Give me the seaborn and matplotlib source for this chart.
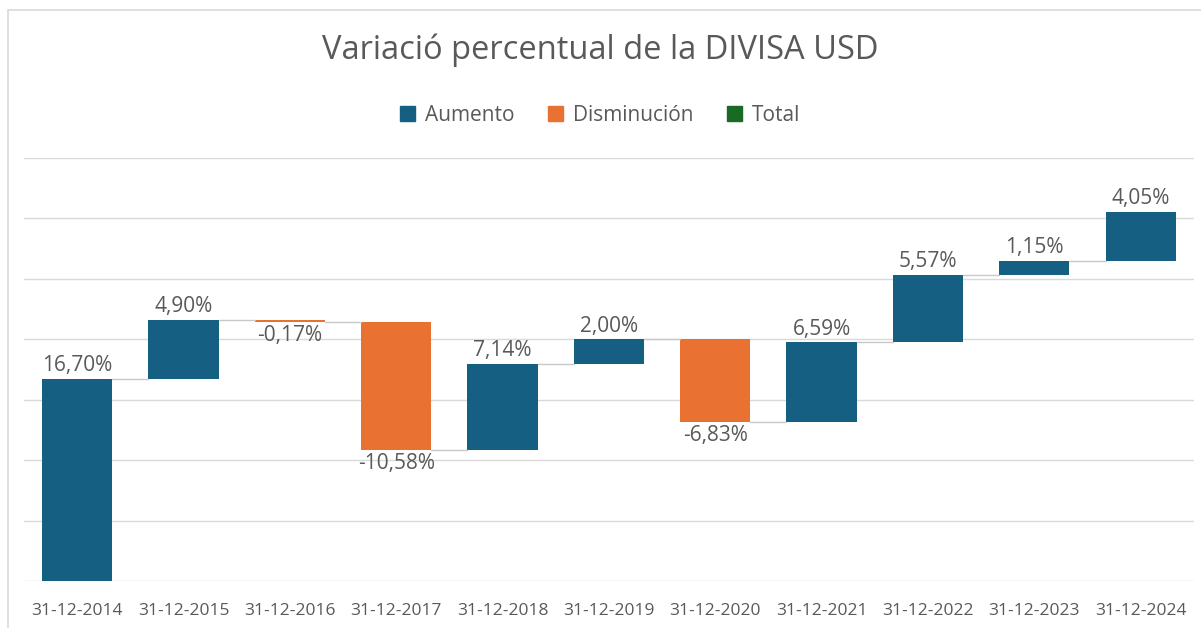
import numpy as np
import pandas as pd
import matplotlib
matplotlib.use("Agg")
import matplotlib.pyplot as plt
import matplotlib.patches as mpatches
import seaborn as sns

# data
fechas = ["31-12-2014", "31-12-2015", "31-12-2016", "31-12-2017", "31-12-2018", "31-12-2019",
          "31-12-2020", "31-12-2021", "31-12-2022", "31-12-2023", "31-12-2024"]
variacion = [16.70, 4.90, -0.17, -10.58, 7.14, 2.00, -6.83, 6.59, 5.57, 1.15, 4.05]
etiquetas = ["16,70%", "4,90%", "-0,17%", "-10,58%", "7,14%", "2,00%",
             "-6,83%", "6,59%", "5,57%", "1,15%", "4,05%"]
leyenda = ["Aumento", "Disminución", "Total"]
colores = {"Aumento": "#156082", "Disminución": "#E97132", "Total": "#196B24"}

sns.set_style("white")
plt.rcParams["font.family"] = ["Open Sans", "DejaVu Sans"]

# waterfall: each bar starts where the previous one ended
acumulado = np.cumsum(variacion)
base = np.concatenate([[0], acumulado[:-1]])
df = pd.DataFrame({"fecha": fechas, "var": variacion, "base": base})
df["tipo"] = np.where(df["var"] >= 0, "Aumento", "Disminución")

fig = plt.figure(figsize=(12.01, 6.28), dpi=100)
ax = fig.add_axes([0.020, 0.0748, 0.974, 0.6736])

sns.barplot(data=df, x="fecha", y="var", bottom=df["base"].values, width=0.66,
            errorbar=None, ax=ax, linewidth=0, color=colores["Aumento"], saturation=1)
bars = ax.containers[0]
for patch, t in zip(bars, df["tipo"]):
    patch.set_facecolor(colores[t])

# connector lines
for i in range(len(acumulado) - 1):
    ax.plot([i + 0.33, i + 1 - 0.33], [acumulado[i], acumulado[i]],
            color="#C8C8C8", lw=1, zorder=1)

ax.bar_label(bars, labels=etiquetas, padding=2, fontsize=15, color="#595959")

ax.set_ylim(0, 35)
ax.set_xlim(-0.5, len(fechas) - 0.5)
ax.set_yticks(np.arange(0, 36, 5))
ax.set_yticklabels([])
ax.grid(axis="y", color="#D9D9D9", lw=1)
ax.set_axisbelow(True)
ax.tick_params(axis="both", length=0)
ax.tick_params(axis="x", labelsize=12.5, labelcolor="#595959", pad=16)
ax.set_xlabel("")
ax.set_ylabel("")
for s in ax.spines.values():
    s.set_visible(False)

fig.suptitle("Variació percentual de la DIVISA USD", y=0.947, fontsize=23.5, color="#595959")

handles = [mpatches.Patch(color=colores[k], label=k) for k in leyenda]
fig.legend(handles=handles, loc="center", bbox_to_anchor=(0.5, 0.816), ncol=3, frameon=False,
           fontsize=15, labelcolor="#595959", handlelength=0.7, handleheight=0.7,
           handletextpad=0.5, columnspacing=1.6)

# chart-area border
fig.patches.append(mpatches.Rectangle((8 / 1201, -0.01), 1.0, (618 / 628) + 0.01,
                                      transform=fig.transFigure, fill=False,
                                      edgecolor="#D9D9D9", lw=1.2))

fig.savefig("out.png", dpi=100)
